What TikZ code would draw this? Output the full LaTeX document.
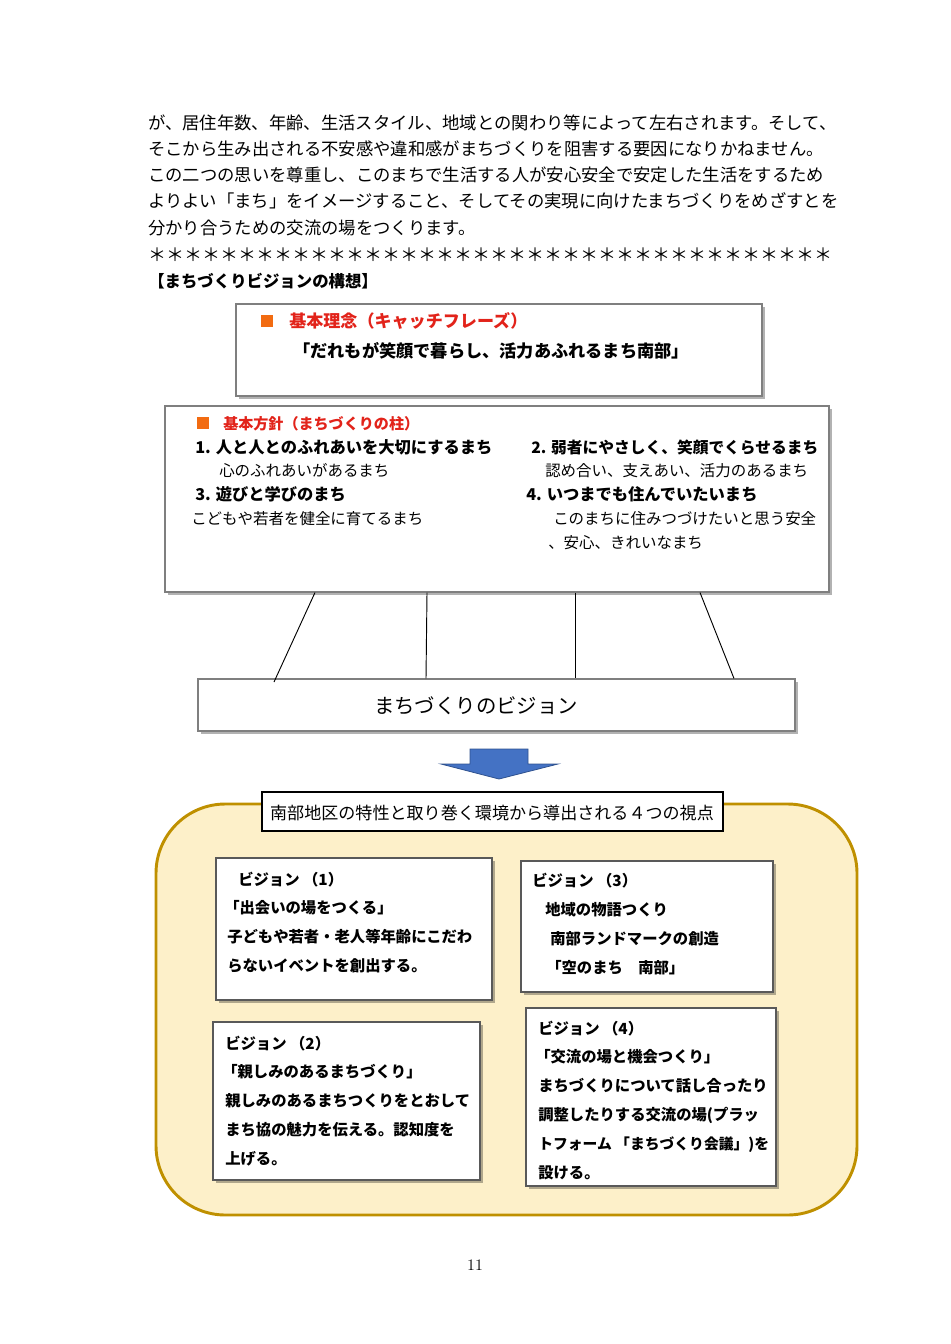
\documentclass[tikz,border=0pt]{standalone}
\usepackage{fontspec}
\setmainfont{Noto Sans CJK JP}
\usetikzlibrary{fit,shadows,calc}
\definecolor{redt}{HTML}{E2231A}
\definecolor{orsq}{HTML}{F26B11}
\definecolor{ybg}{HTML}{FDF0C9}
\definecolor{ybd}{HTML}{BF9000}
\definecolor{arrf}{HTML}{4472C4}
\definecolor{arrd}{HTML}{2F528F}
\definecolor{bgray}{HTML}{7F7F7F}
\definecolor{dgray}{HTML}{595959}
\begin{document}
\begin{tikzpicture}[x=0.75pt,y=-0.75pt,
  frame/.style={draw=bgray, fill=white, line width=0.8pt, inner sep=0pt,
    drop shadow={shadow xshift=2pt, shadow yshift=-2pt, fill=black, opacity=0.3}},
  vframe/.style={frame, draw=dgray},
  txt/.style={anchor=base west, inner sep=0pt},
  body/.style={txt, font=\fontsize{13}{15}\selectfont},
  item/.style={txt, font=\fontsize{12.2}{14}\selectfont\bfseries},
  sub/.style={txt, font=\fontsize{11.6}{14}\selectfont},
  vis/.style={txt, font=\fontsize{11.5}{14}\selectfont\bfseries},
  redtitle/.style={txt, text=redt, font=\fontsize{12}{14}\selectfont\bfseries},
  sq/.style={fill=orsq, inner sep=0pt, minimum size=#1},
  link/.style={draw=black, line width=0.7pt}
]
\useasboundingbox (0,0) rectangle (950,1344);

% ---- top text ----
\node[body] (t1) at (148,130) {が、居住年数、年齢、生活スタイル、地域との関わり等によって左右されます。そして、};
\node[body] (t2) at (148,156) {そこから生み出される不安感や違和感がまちづくりを阻害する要因になりかねません。};
\node[body] (t3) at (148,182) {この二つの思いを尊重し、このまちで生活する人が安心安全で安定した生活をするため};
\node[body] (t4) at (148,208) {よりよい「まち」をイメージすること、そしてその実現に向けたまちづくりをめざすとを};
\node[body] (t5) at (148,235) {分かり合うための交流の場をつくります。};
\node[txt, font=\fontsize{13.5}{15}\selectfont] (ast) at (148,262) {＊＊＊＊＊＊＊＊＊＊＊＊＊＊＊＊＊＊＊＊＊＊＊＊＊＊＊＊＊＊＊＊＊＊＊＊＊＊};
\node[txt, font=\fontsize{12.3}{15}\selectfont\bfseries] (hd) at (148,287) {【まちづくりビジョンの構想】};

% ---- box 1 ----
\node[frame, draw=bgray, line width=1.6pt, fit={(236,304) (762,396)}] (b1) {};
\node[sq=9.5pt] (s1) at (267,321) {};
\node[redtitle, font=\fontsize{12.8}{15}\selectfont\bfseries] (b1t) at (289,327) {基本理念（キャッチフレーズ）};
\node[txt, font=\fontsize{12.9}{15}\selectfont\bfseries] (b1q) at (293,357) {「だれもが笑顔で暮らし、活力あふれるまち南部」};

% ---- box 2 ----
\node[frame, fit={(165,406) (829,592)}] (b2) {};
\node[sq=8.5pt] (s2) at (203,423) {};
\node[redtitle, font=\fontsize{11.3}{14}\selectfont\bfseries] (b2t) at (223,429) {基本方針（まちづくりの柱）};
\node[item] (i1) at (195,453) {1. 人と人とのふれあいを大切にするまち};
\node[sub] (i1s) at (219,476) {心のふれあいがあるまち};
\node[item] (i3) at (195,500) {3. 遊びと学びのまち};
\node[sub] (i3s) at (191,524) {こどもや若者を健全に育てるまち};
\node[item, font=\fontsize{11.8}{14}\selectfont\bfseries] (i2) at (531,453) {2. 弱者にやさしく、笑顔でくらせるまち};
\node[sub] (i2s) at (545,476) {認め合い、支えあい、活力のあるまち};
\node[item] (i4) at (526,500) {4. いつまでも住んでいたいまち};
\node[sub] (i4s) at (553,524) {このまちに住みつづけたいと思う安全};
\node[sub] (i4s2) at (548,548) {、安心、きれいなまち};

% ---- vision box ----
\node[frame, fit={(198,679) (795,731)}] (vb) {};
\node[font=\fontsize{15.3}{18}\selectfont, inner sep=0pt] (vbt) at (476,706) {まちづくりのビジョン};

% connectors
\coordinate (c1a) at (315,595); \coordinate (c1b) at (274,682);
\coordinate (c2a) at (427,595); \coordinate (c2b) at (426,679);
\coordinate (c3a) at (575,595); \coordinate (c3b) at (575,679);
\coordinate (c4a) at (700,595); \coordinate (c4b) at (734,679);
\draw[link] (c1a |- b2.south) -- (c1b);
\draw[link] (c2a |- b2.south) -- (c2b |- vb.north);
\draw[link] (c3a |- b2.south) -- (c3b |- vb.north);
\draw[link] (c4a |- b2.south) -- (c4b |- vb.north);

% ---- blue block arrow ----
\filldraw[fill=arrf, draw=arrd, line width=0.6pt]
  (470,749) -- (528,749) -- (528,764) -- (558,764) -- (499,779) -- (441,764) -- (470,764) -- cycle;

% ---- yellow panel ----
\node[draw=ybd, fill=ybg, line width=2.2pt, rounded corners=52pt, inner sep=0pt,
      fit={(156,804) (857,1215)}] (yp) {};
\node[draw=black, fill=white, line width=1.6pt, inner sep=0pt, fit={(262,792) (723,831)}] (tb) {};
\node[font=\fontsize{12.8}{15}\selectfont, inner sep=0pt] (tbt) at (492,813) {南部地区の特性と取り巻く環境から導出される４つの視点};

% vision 1
\node[vframe, fit={(216,858) (492,1000)}] (v1) {};
\node[vis] (v1a) at (238,885) {ビジョン （1）};
\node[vis] (v1b) at (224,913) {「出会いの場をつくる」};
\node[vis] (v1c) at (227,942) {子どもや若者・老人等年齢にこだわ};
\node[vis] (v1d) at (227,971) {らないイベントを創出する。};

% vision 3
\node[vframe, fit={(521,861) (773,992)}] (v3) {};
\node[vis] (v3a) at (532,886) {ビジョン （3）};
\node[vis] (v3b) at (545,915) {地域の物語つくり};
\node[vis] (v3c) at (550,944) {南部ランドマークの創造};
\node[vis] (v3d) at (546,973) {「空のまち　南部」};

% vision 2
\node[vframe, fit={(213,1022) (480,1180)}] (v2) {};
\node[vis] (v2a) at (225,1049) {ビジョン （2）};
\node[vis] (v2b) at (222,1077) {「親しみのあるまちづくり」};
\node[vis] (v2c) at (225,1106) {親しみのあるまちつくりをとおして};
\node[vis] (v2d) at (225,1135) {まち協の魅力を伝える。認知度を};
\node[vis] (v2e) at (225,1164) {上げる。};

% vision 4
\node[vframe, fit={(526,1008) (776,1186)}] (v4) {};
\node[vis] (v4a) at (538,1034) {ビジョン （4）};
\node[vis] (v4b) at (535,1062) {「交流の場と機会つくり」};
\node[vis] (v4c) at (538,1091) {まちづくりについて話し合ったり};
\node[vis] (v4d) at (538,1120) {調整したりする交流の場(プラッ};
\node[vis, font=\fontsize{11.1}{14}\selectfont\bfseries] (v4e) at (538,1149) {トフォーム 「まちづくり会議」)を};
\node[vis] (v4f) at (538,1178) {設ける。};

% page number
\node[font=\fontfamily{lmr}\fontsize{12}{14}\selectfont, inner sep=0pt] (pg) at (475,1265) {11};
\end{tikzpicture}
\end{document}
